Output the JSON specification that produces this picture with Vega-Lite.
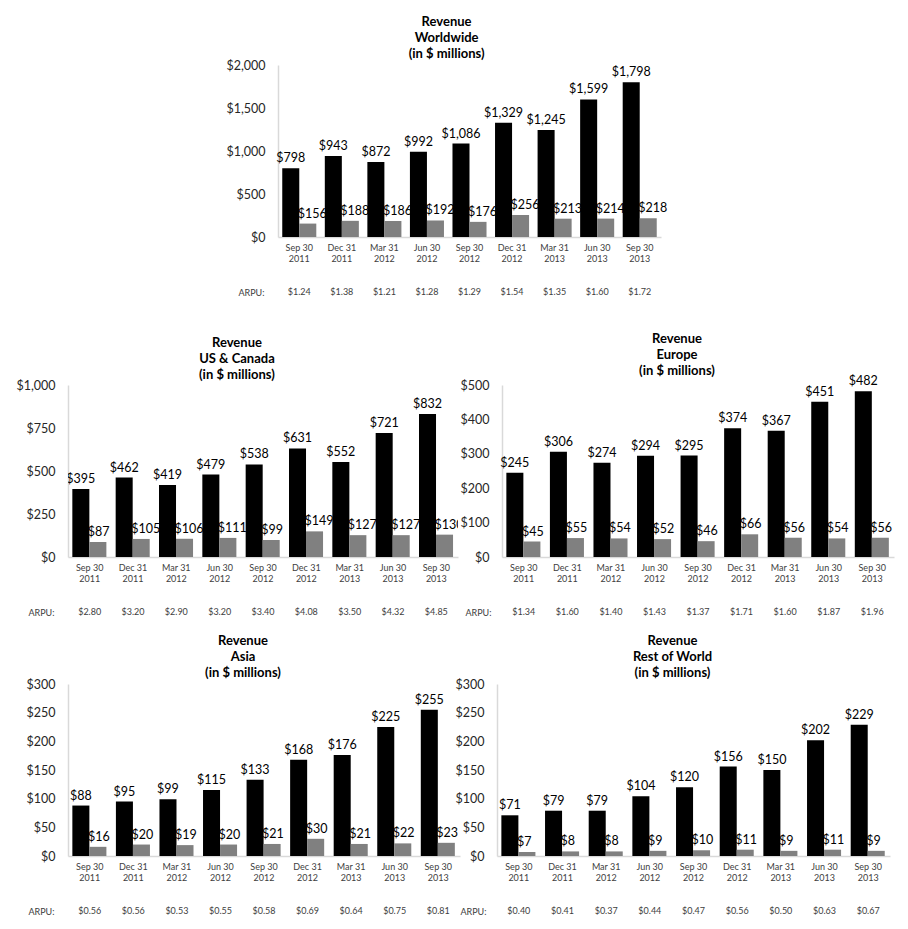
{
  "$schema": "https://vega.github.io/schema/vega-lite/v6.json",
  "padding": {"left": 15, "top": 16, "right": 5, "bottom": 5},
  "background": "white",
  "config": {
    "font": "Lato",
    "view": {"stroke": null},
    "axis": {"grid": false, "ticks": false, "domainColor": "#d9d9d9", "domainWidth": 1.5},
    "axisY": {"labelFontSize": 12.5, "labelColor": "#262626", "labelPadding": 13, "title": null},
    "axisX": {"labelFontSize": 9, "labelColor": "#404040", "labelAngle": 0, "labelPadding": 6, "labelLineHeight": 11, "title": null},
    "title": {"fontSize": 13, "fontWeight": "bold", "lineHeight": 16, "offset": -2, "color": "#000000", "anchor": "middle", "frame": "bounds"},
    "text": {"font": "Lato"}
  },
  "data": {"values": [
    {"region": "Worldwide", "quarter": "Sep 30 2011", "Advertising": 798, "Payments": 156, "arpu": 1.24},
    {"region": "Worldwide", "quarter": "Dec 31 2011", "Advertising": 943, "Payments": 188, "arpu": 1.38},
    {"region": "Worldwide", "quarter": "Mar 31 2012", "Advertising": 872, "Payments": 186, "arpu": 1.21},
    {"region": "Worldwide", "quarter": "Jun 30 2012", "Advertising": 992, "Payments": 192, "arpu": 1.28},
    {"region": "Worldwide", "quarter": "Sep 30 2012", "Advertising": 1086, "Payments": 176, "arpu": 1.29},
    {"region": "Worldwide", "quarter": "Dec 31 2012", "Advertising": 1329, "Payments": 256, "arpu": 1.54},
    {"region": "Worldwide", "quarter": "Mar 31 2013", "Advertising": 1245, "Payments": 213, "arpu": 1.35},
    {"region": "Worldwide", "quarter": "Jun 30 2013", "Advertising": 1599, "Payments": 214, "arpu": 1.60},
    {"region": "Worldwide", "quarter": "Sep 30 2013", "Advertising": 1798, "Payments": 218, "arpu": 1.72},
    {"region": "US & Canada", "quarter": "Sep 30 2011", "Advertising": 395, "Payments": 87, "arpu": 2.80},
    {"region": "US & Canada", "quarter": "Dec 31 2011", "Advertising": 462, "Payments": 105, "arpu": 3.20},
    {"region": "US & Canada", "quarter": "Mar 31 2012", "Advertising": 419, "Payments": 106, "arpu": 2.90},
    {"region": "US & Canada", "quarter": "Jun 30 2012", "Advertising": 479, "Payments": 111, "arpu": 3.20},
    {"region": "US & Canada", "quarter": "Sep 30 2012", "Advertising": 538, "Payments": 99, "arpu": 3.40},
    {"region": "US & Canada", "quarter": "Dec 31 2012", "Advertising": 631, "Payments": 149, "arpu": 4.08},
    {"region": "US & Canada", "quarter": "Mar 31 2013", "Advertising": 552, "Payments": 127, "arpu": 3.50},
    {"region": "US & Canada", "quarter": "Jun 30 2013", "Advertising": 721, "Payments": 127, "arpu": 4.32},
    {"region": "US & Canada", "quarter": "Sep 30 2013", "Advertising": 832, "Payments": 130, "arpu": 4.85},
    {"region": "Europe", "quarter": "Sep 30 2011", "Advertising": 245, "Payments": 45, "arpu": 1.34},
    {"region": "Europe", "quarter": "Dec 31 2011", "Advertising": 306, "Payments": 55, "arpu": 1.60},
    {"region": "Europe", "quarter": "Mar 31 2012", "Advertising": 274, "Payments": 54, "arpu": 1.40},
    {"region": "Europe", "quarter": "Jun 30 2012", "Advertising": 294, "Payments": 52, "arpu": 1.43},
    {"region": "Europe", "quarter": "Sep 30 2012", "Advertising": 295, "Payments": 46, "arpu": 1.37},
    {"region": "Europe", "quarter": "Dec 31 2012", "Advertising": 374, "Payments": 66, "arpu": 1.71},
    {"region": "Europe", "quarter": "Mar 31 2013", "Advertising": 367, "Payments": 56, "arpu": 1.60},
    {"region": "Europe", "quarter": "Jun 30 2013", "Advertising": 451, "Payments": 54, "arpu": 1.87},
    {"region": "Europe", "quarter": "Sep 30 2013", "Advertising": 482, "Payments": 56, "arpu": 1.96},
    {"region": "Asia", "quarter": "Sep 30 2011", "Advertising": 88, "Payments": 16, "arpu": 0.56},
    {"region": "Asia", "quarter": "Dec 31 2011", "Advertising": 95, "Payments": 20, "arpu": 0.56},
    {"region": "Asia", "quarter": "Mar 31 2012", "Advertising": 99, "Payments": 19, "arpu": 0.53},
    {"region": "Asia", "quarter": "Jun 30 2012", "Advertising": 115, "Payments": 20, "arpu": 0.55},
    {"region": "Asia", "quarter": "Sep 30 2012", "Advertising": 133, "Payments": 21, "arpu": 0.58},
    {"region": "Asia", "quarter": "Dec 31 2012", "Advertising": 168, "Payments": 30, "arpu": 0.69},
    {"region": "Asia", "quarter": "Mar 31 2013", "Advertising": 176, "Payments": 21, "arpu": 0.64},
    {"region": "Asia", "quarter": "Jun 30 2013", "Advertising": 225, "Payments": 22, "arpu": 0.75},
    {"region": "Asia", "quarter": "Sep 30 2013", "Advertising": 255, "Payments": 23, "arpu": 0.81},
    {"region": "Rest of World", "quarter": "Sep 30 2011", "Advertising": 71, "Payments": 7, "arpu": 0.40},
    {"region": "Rest of World", "quarter": "Dec 31 2011", "Advertising": 79, "Payments": 8, "arpu": 0.41},
    {"region": "Rest of World", "quarter": "Mar 31 2012", "Advertising": 79, "Payments": 8, "arpu": 0.37},
    {"region": "Rest of World", "quarter": "Jun 30 2012", "Advertising": 104, "Payments": 9, "arpu": 0.44},
    {"region": "Rest of World", "quarter": "Sep 30 2012", "Advertising": 120, "Payments": 10, "arpu": 0.47},
    {"region": "Rest of World", "quarter": "Dec 31 2012", "Advertising": 156, "Payments": 11, "arpu": 0.56},
    {"region": "Rest of World", "quarter": "Mar 31 2013", "Advertising": 150, "Payments": 9, "arpu": 0.50},
    {"region": "Rest of World", "quarter": "Jun 30 2013", "Advertising": 202, "Payments": 11, "arpu": 0.63},
    {"region": "Rest of World", "quarter": "Sep 30 2013", "Advertising": 229, "Payments": 9, "arpu": 0.67}
  ]},
  "center": true,
  "spacing": 35,
  "vconcat": [
    {
      "spacing": 8,
      "hconcat": [
        {
          "spacing": 23,
          "vconcat": [
            {
              "width": 383, "height": 172,
              "title": {"text": ["Revenue", "Worldwide", "(in $ millions)"]},
              "transform": [{"filter": "datum.region === 'Worldwide'"}, {"fold": ["Advertising", "Payments"], "as": ["series", "amount"]}],
              "encoding": {
                "x": {"field": "quarter", "type": "nominal", "sort": ["Sep 30 2011", "Dec 31 2011", "Mar 31 2012", "Jun 30 2012", "Sep 30 2012", "Dec 31 2012", "Mar 31 2013", "Jun 30 2013", "Sep 30 2013"], "scale": {"paddingInner": 0.2, "paddingOuter": 0.1}, "axis": {"labelExpr": "[slice(datum.label, 0, 6), slice(datum.label, 7)]"}},
                "xOffset": {"field": "series", "type": "nominal", "sort": ["Advertising", "Payments"]},
                "y": {"field": "amount", "type": "quantitative", "scale": {"domain": [0, 2000]}, "axis": {"values": [0, 500, 1000, 1500, 2000], "format": "$,d"}}
              },
              "layer": [
                {"mark": {"type": "bar"}, "encoding": {"color": {"field": "series", "type": "nominal", "scale": {"domain": ["Advertising", "Payments"], "range": ["#000000", "#808080"]}, "legend": null}}},
                {"transform": [{"filter": "datum.series === 'Advertising'"}], "mark": {"type": "text", "baseline": "bottom", "dy": -3, "fontSize": 12.5, "color": "#000000"}, "encoding": {"text": {"field": "amount", "type": "quantitative", "format": "$,d"}}},
                {"transform": [{"filter": "datum.series === 'Payments'"}], "mark": {"type": "text", "baseline": "bottom", "align": "left", "dx": -10, "dy": -3, "fontSize": 12.5, "color": "#000000"}, "encoding": {"text": {"field": "amount", "type": "quantitative", "format": "$,d"}}}
              ]
            },
            {
              "width": 383, "height": 12,
              "transform": [{"filter": "datum.region === 'Worldwide'"}],
              "mark": {"type": "text", "fontSize": 9, "color": "#404040"},
              "encoding": {
                "x": {"field": "quarter", "type": "nominal", "sort": ["Sep 30 2011", "Dec 31 2011", "Mar 31 2012", "Jun 30 2012", "Sep 30 2012", "Dec 31 2012", "Mar 31 2013", "Jun 30 2013", "Sep 30 2013"], "axis": null},
                "y": {"datum": "ARPU:", "type": "nominal", "axis": {"title": null, "domain": false, "labelFontSize": 9, "labelColor": "#404040", "labelPadding": 14}},
                "text": {"field": "arpu", "type": "quantitative", "format": "$.2f"}
              }
            }
          ]
        },
        {
          "width": 8, "height": 10,
          "data": {"values": []},
          "mark": {"type": "point"},
          "encoding": {}
        }
      ]
    },
    {
      "spacing": 17,
      "vconcat": [
        {
          "spacing": 2,
          "hconcat": [
            {
              "spacing": 23,
              "vconcat": [
                {
                  "width": 390, "height": 172,
                  "title": {"text": ["Revenue", "US & Canada", "(in $ millions)"], "offset": -3},
                  "transform": [{"filter": "datum.region === 'US & Canada'"}, {"fold": ["Advertising", "Payments"], "as": ["series", "amount"]}],
                  "encoding": {
                    "x": {"field": "quarter", "type": "nominal", "sort": ["Sep 30 2011", "Dec 31 2011", "Mar 31 2012", "Jun 30 2012", "Sep 30 2012", "Dec 31 2012", "Mar 31 2013", "Jun 30 2013", "Sep 30 2013"], "scale": {"paddingInner": 0.2, "paddingOuter": 0.1}, "axis": {"labelExpr": "[slice(datum.label, 0, 6), slice(datum.label, 7)]"}},
                    "xOffset": {"field": "series", "type": "nominal", "sort": ["Advertising", "Payments"]},
                    "y": {"field": "amount", "type": "quantitative", "scale": {"domain": [0, 1000]}, "axis": {"values": [0, 250, 500, 750, 1000], "format": "$,d"}}
                  },
                  "layer": [
                    {"mark": {"type": "bar"}, "encoding": {"color": {"field": "series", "type": "nominal", "scale": {"domain": ["Advertising", "Payments"], "range": ["#000000", "#808080"]}, "legend": null}}},
                    {"transform": [{"filter": "datum.series === 'Advertising'"}], "mark": {"type": "text", "baseline": "bottom", "dy": -3, "fontSize": 12.5, "color": "#000000", "clip": true}, "encoding": {"text": {"field": "amount", "type": "quantitative", "format": "$,d"}}},
                    {"transform": [{"filter": "datum.series === 'Payments'"}], "mark": {"type": "text", "baseline": "bottom", "align": "left", "dx": -10, "dy": -3, "fontSize": 12.5, "color": "#000000", "clip": true}, "encoding": {"text": {"field": "amount", "type": "quantitative", "format": "$,d"}}}
                  ]
                },
                {
                  "width": 390, "height": 12,
                  "transform": [{"filter": "datum.region === 'US & Canada'"}],
                  "mark": {"type": "text", "fontSize": 9, "color": "#404040"},
                  "encoding": {
                    "x": {"field": "quarter", "type": "nominal", "sort": ["Sep 30 2011", "Dec 31 2011", "Mar 31 2012", "Jun 30 2012", "Sep 30 2012", "Dec 31 2012", "Mar 31 2013", "Jun 30 2013", "Sep 30 2013"], "axis": null},
                    "y": {"datum": "ARPU:", "type": "nominal", "axis": {"title": null, "domain": false, "labelFontSize": 9, "labelColor": "#404040", "labelPadding": 14}},
                    "text": {"field": "arpu", "type": "quantitative", "format": "$.2f"}
                  }
                }
              ]
            },
            {
              "spacing": 23,
              "vconcat": [
                {
                  "width": 392, "height": 172,
                  "title": {"text": ["Revenue", "Europe", "(in $ millions)"], "offset": -3},
                  "transform": [{"filter": "datum.region === 'Europe'"}, {"fold": ["Advertising", "Payments"], "as": ["series", "amount"]}],
                  "encoding": {
                    "x": {"field": "quarter", "type": "nominal", "sort": ["Sep 30 2011", "Dec 31 2011", "Mar 31 2012", "Jun 30 2012", "Sep 30 2012", "Dec 31 2012", "Mar 31 2013", "Jun 30 2013", "Sep 30 2013"], "scale": {"paddingInner": 0.2, "paddingOuter": 0.1}, "axis": {"labelExpr": "[slice(datum.label, 0, 6), slice(datum.label, 7)]"}},
                    "xOffset": {"field": "series", "type": "nominal", "sort": ["Advertising", "Payments"]},
                    "y": {"field": "amount", "type": "quantitative", "scale": {"domain": [0, 500]}, "axis": {"values": [0, 100, 200, 300, 400, 500], "format": "$,d"}}
                  },
                  "layer": [
                    {"mark": {"type": "bar"}, "encoding": {"color": {"field": "series", "type": "nominal", "scale": {"domain": ["Advertising", "Payments"], "range": ["#000000", "#808080"]}, "legend": null}}},
                    {"transform": [{"filter": "datum.series === 'Advertising'"}], "mark": {"type": "text", "baseline": "bottom", "dy": -3, "fontSize": 12.5, "color": "#000000"}, "encoding": {"text": {"field": "amount", "type": "quantitative", "format": "$,d"}}},
                    {"transform": [{"filter": "datum.series === 'Payments'"}], "mark": {"type": "text", "baseline": "bottom", "align": "left", "dx": -10, "dy": -3, "fontSize": 12.5, "color": "#000000"}, "encoding": {"text": {"field": "amount", "type": "quantitative", "format": "$,d"}}}
                  ]
                },
                {
                  "width": 392, "height": 12,
                  "transform": [{"filter": "datum.region === 'Europe'"}],
                  "mark": {"type": "text", "fontSize": 9, "color": "#404040"},
                  "encoding": {
                    "x": {"field": "quarter", "type": "nominal", "sort": ["Sep 30 2011", "Dec 31 2011", "Mar 31 2012", "Jun 30 2012", "Sep 30 2012", "Dec 31 2012", "Mar 31 2013", "Jun 30 2013", "Sep 30 2013"], "axis": null},
                    "y": {"datum": "ARPU:", "type": "nominal", "axis": {"title": null, "domain": false, "labelFontSize": 9, "labelColor": "#404040", "labelPadding": 11}},
                    "text": {"field": "arpu", "type": "quantitative", "format": "$.2f"}
                  }
                }
              ]
            }
          ]
        },
        {
          "spacing": -5,
          "hconcat": [
            {
              "spacing": 23,
              "vconcat": [
                {
                  "width": 392, "height": 172,
                  "title": {"text": ["Revenue", "Asia", "(in $ millions)"], "offset": -2},
                  "transform": [{"filter": "datum.region === 'Asia'"}, {"fold": ["Advertising", "Payments"], "as": ["series", "amount"]}],
                  "encoding": {
                    "x": {"field": "quarter", "type": "nominal", "sort": ["Sep 30 2011", "Dec 31 2011", "Mar 31 2012", "Jun 30 2012", "Sep 30 2012", "Dec 31 2012", "Mar 31 2013", "Jun 30 2013", "Sep 30 2013"], "scale": {"paddingInner": 0.2, "paddingOuter": 0.1}, "axis": {"labelExpr": "[slice(datum.label, 0, 6), slice(datum.label, 7)]"}},
                    "xOffset": {"field": "series", "type": "nominal", "sort": ["Advertising", "Payments"]},
                    "y": {"field": "amount", "type": "quantitative", "scale": {"domain": [0, 300]}, "axis": {"values": [0, 50, 100, 150, 200, 250, 300], "format": "$,d"}}
                  },
                  "layer": [
                    {"mark": {"type": "bar"}, "encoding": {"color": {"field": "series", "type": "nominal", "scale": {"domain": ["Advertising", "Payments"], "range": ["#000000", "#808080"]}, "legend": null}}},
                    {"transform": [{"filter": "datum.series === 'Advertising'"}], "mark": {"type": "text", "baseline": "bottom", "dy": -3, "fontSize": 12.5, "color": "#000000"}, "encoding": {"text": {"field": "amount", "type": "quantitative", "format": "$,d"}}},
                    {"transform": [{"filter": "datum.series === 'Payments'"}], "mark": {"type": "text", "baseline": "bottom", "align": "left", "dx": -10, "dy": -3, "fontSize": 12.5, "color": "#000000"}, "encoding": {"text": {"field": "amount", "type": "quantitative", "format": "$,d"}}}
                  ]
                },
                {
                  "width": 392, "height": 12,
                  "transform": [{"filter": "datum.region === 'Asia'"}],
                  "mark": {"type": "text", "fontSize": 9, "color": "#404040"},
                  "encoding": {
                    "x": {"field": "quarter", "type": "nominal", "sort": ["Sep 30 2011", "Dec 31 2011", "Mar 31 2012", "Jun 30 2012", "Sep 30 2012", "Dec 31 2012", "Mar 31 2013", "Jun 30 2013", "Sep 30 2013"], "axis": null},
                    "y": {"datum": "ARPU:", "type": "nominal", "axis": {"title": null, "domain": false, "labelFontSize": 9, "labelColor": "#404040", "labelPadding": 14}},
                    "text": {"field": "arpu", "type": "quantitative", "format": "$.2f"}
                  }
                }
              ]
            },
            {
              "spacing": 23,
              "vconcat": [
                {
                  "width": 393, "height": 172,
                  "title": {"text": ["Revenue", "Rest of World", "(in $ millions)"], "offset": -2},
                  "transform": [{"filter": "datum.region === 'Rest of World'"}, {"fold": ["Advertising", "Payments"], "as": ["series", "amount"]}],
                  "encoding": {
                    "x": {"field": "quarter", "type": "nominal", "sort": ["Sep 30 2011", "Dec 31 2011", "Mar 31 2012", "Jun 30 2012", "Sep 30 2012", "Dec 31 2012", "Mar 31 2013", "Jun 30 2013", "Sep 30 2013"], "scale": {"paddingInner": 0.2, "paddingOuter": 0.1}, "axis": {"labelExpr": "[slice(datum.label, 0, 6), slice(datum.label, 7)]"}},
                    "xOffset": {"field": "series", "type": "nominal", "sort": ["Advertising", "Payments"]},
                    "y": {"field": "amount", "type": "quantitative", "scale": {"domain": [0, 300]}, "axis": {"values": [0, 50, 100, 150, 200, 250, 300], "format": "$,d"}}
                  },
                  "layer": [
                    {"mark": {"type": "bar"}, "encoding": {"color": {"field": "series", "type": "nominal", "scale": {"domain": ["Advertising", "Payments"], "range": ["#000000", "#808080"]}, "legend": null}}},
                    {"transform": [{"filter": "datum.series === 'Advertising'"}], "mark": {"type": "text", "baseline": "bottom", "dy": -3, "fontSize": 12.5, "color": "#000000"}, "encoding": {"text": {"field": "amount", "type": "quantitative", "format": "$,d"}}},
                    {"transform": [{"filter": "datum.series === 'Payments'"}], "mark": {"type": "text", "baseline": "bottom", "align": "left", "dx": -10, "dy": -3, "fontSize": 12.5, "color": "#000000"}, "encoding": {"text": {"field": "amount", "type": "quantitative", "format": "$,d"}}}
                  ]
                },
                {
                  "width": 393, "height": 12,
                  "transform": [{"filter": "datum.region === 'Rest of World'"}],
                  "mark": {"type": "text", "fontSize": 9, "color": "#404040"},
                  "encoding": {
                    "x": {"field": "quarter", "type": "nominal", "sort": ["Sep 30 2011", "Dec 31 2011", "Mar 31 2012", "Jun 30 2012", "Sep 30 2012", "Dec 31 2012", "Mar 31 2013", "Jun 30 2013", "Sep 30 2013"], "axis": null},
                    "y": {"datum": "ARPU:", "type": "nominal", "axis": {"title": null, "domain": false, "labelFontSize": 9, "labelColor": "#404040", "labelPadding": 11}},
                    "text": {"field": "arpu", "type": "quantitative", "format": "$.2f"}
                  }
                }
              ]
            }
          ]
        }
      ]
    }
  ]
}
